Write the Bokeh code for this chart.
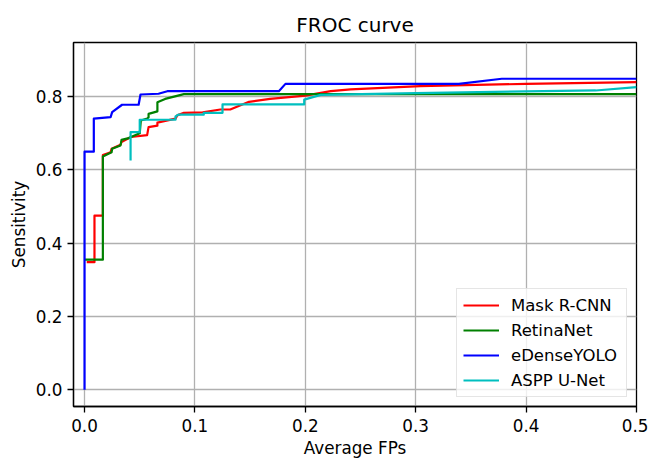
from bokeh.plotting import figure
from bokeh.models import Range1d, FixedTicker, Legend, LegendItem, PrintfTickFormatter, Title
from bokeh.embed import file_html
from bokeh.resources import INLINE

# ---- data ----
mask_fp = [0.002, 0.009, 0.009, 0.0166, 0.0166, 0.0236, 0.0245, 0.0326, 0.0335, 0.042, 0.0567,
           0.058, 0.066, 0.066, 0.0824, 0.084, 0.090, 0.107, 0.123, 0.132, 0.149, 0.168,
           0.200, 0.223, 0.241, 0.304, 0.400, 0.500]
mask_sens = [0.348, 0.348, 0.475, 0.475, 0.641, 0.648, 0.658, 0.669, 0.676, 0.690, 0.695,
             0.717, 0.721, 0.729, 0.740, 0.749, 0.756, 0.757, 0.765, 0.765, 0.786, 0.794,
             0.803, 0.815, 0.820, 0.829, 0.835, 0.840]

retina_fp = [0.0, 0.0166, 0.0166, 0.0245, 0.025, 0.0326, 0.0335, 0.040, 0.050, 0.051, 0.0567,
             0.058, 0.058, 0.066, 0.066, 0.073, 0.090, 0.500]
retina_sens = [0.355, 0.355, 0.637, 0.648, 0.658, 0.667, 0.682, 0.687, 0.700, 0.735, 0.740,
               0.744, 0.753, 0.760, 0.785, 0.794, 0.807, 0.807]

yolo_fp = [0.0, 0.0, 0.0084, 0.0084, 0.0236, 0.025, 0.034, 0.049, 0.0507, 0.067, 0.075,
           0.176, 0.182, 0.339, 0.378, 0.500]
yolo_sens = [0.0, 0.650, 0.650, 0.740, 0.744, 0.758, 0.778, 0.778, 0.806, 0.808, 0.815,
             0.815, 0.835, 0.835, 0.849, 0.849]

aspp_fp = [0.0417, 0.0417, 0.050, 0.050, 0.0824, 0.0824, 0.085, 0.108, 0.108, 0.125, 0.125,
           0.199, 0.199, 0.214, 0.300, 0.463, 0.500]
aspp_sens = [0.626, 0.703, 0.703, 0.737, 0.737, 0.746, 0.751, 0.751, 0.756, 0.756, 0.779,
             0.779, 0.792, 0.805, 0.810, 0.817, 0.826]

series_names = ["Mask R-CNN", "RetinaNet", "eDenseYOLO", "ASPP U-Net"]
series_colors = ["#ff0000", "#008000", "#0000ff", "#00bfbf"]
x_ticks = [0.0, 0.1, 0.2, 0.3, 0.4, 0.5]
y_ticks = [0.0, 0.2, 0.4, 0.6, 0.8]
title_text = "FROC curve"
x_label_text = "Average FPs"
y_label_text = "Sensitivity"

FONT = "DejaVu Sans"

p = figure(width=648, height=458, output_backend="svg", toolbar_location=None,
           x_range=Range1d(-0.01, 0.5), y_range=Range1d(-0.046, 0.948),
           min_border_left=73, min_border_right=12, min_border_top=42, min_border_bottom=52,
           title=title_text)

p.title.text_font = FONT
p.title.text_font_size = "20px"
p.title.text_font_style = "normal"
p.title.text_color = "black"
p.title.align = "center"
p.title.standoff = 11

p.background_fill_color = "white"
p.border_fill_color = "white"
p.outline_line_color = "black"
p.outline_line_width = 1.3

for g in (p.xgrid, p.ygrid):
    g.grid_line_color = "#b0b0b0"
    g.grid_line_width = 1.3

p.xaxis.ticker = FixedTicker(ticks=x_ticks)
p.yaxis.ticker = FixedTicker(ticks=y_ticks)
for ax in (p.xaxis, p.yaxis):
    ax.formatter = PrintfTickFormatter(format="%.1f")
    ax.axis_line_color = "black"
    ax.axis_line_width = 1.3
    ax.major_tick_out = 6
    ax.major_tick_in = 0
    ax.major_tick_line_width = 1.3
    ax.major_tick_line_color = "black"
    ax.minor_tick_line_color = None
    ax.major_label_text_font = FONT
    ax.major_label_text_font_size = "16.8px"
    ax.major_label_text_color = "black"
    ax.axis_label_text_font = FONT
    ax.axis_label_text_font_size = "16.8px"
    ax.axis_label_text_font_style = "normal"
    ax.axis_label_text_color = "black"

p.xaxis.major_label_standoff = 6
p.yaxis.major_label_standoff = 5
p.yaxis.axis_label = y_label_text
p.yaxis.axis_label_standoff = 4

# x-axis title as a below-panel title, placed under the tick labels
xtitle = Title(text=x_label_text, align="center", standoff=2)
xtitle.text_font = FONT
xtitle.text_font_size = "16.8px"
xtitle.text_font_style = "normal"
xtitle.text_color = "black"
p.add_layout(xtitle, "below")

xs_all = [mask_fp, retina_fp, yolo_fp, aspp_fp]
ys_all = [mask_sens, retina_sens, yolo_sens, aspp_sens]
items = []
for name, color, xs, ys in zip(series_names, series_colors, xs_all, ys_all):
    r = p.line(xs, ys, line_color=color, line_width=2.2, line_join="round")
    items.append(LegendItem(label=name, renderers=[r]))

legend = Legend(items=items, location="bottom_right")
legend.margin = 9
legend.padding = 6
legend.spacing = 5
legend.glyph_width = 36
legend.glyph_height = 20
legend.label_height = 20
legend.label_width = 109
legend.label_standoff = 12
legend.label_text_font = FONT
legend.label_text_font_size = "16.5px"
legend.label_text_color = "black"
legend.border_line_color = "#cccccc"
legend.border_line_width = 1.3
legend.background_fill_alpha = 0.8
p.add_layout(legend)

open("out.html", "w").write(file_html(p, INLINE))
